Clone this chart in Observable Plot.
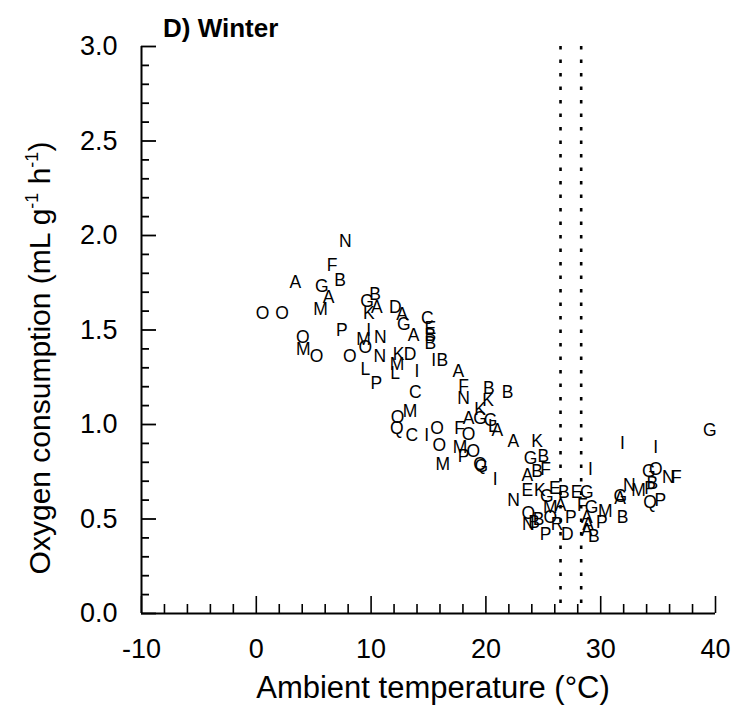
<!DOCTYPE html>
<html>
<head>
<meta charset="utf-8">
<script src="https://cdn.jsdelivr.net/npm/d3@7"></script>
<script src="https://cdn.jsdelivr.net/npm/@observablehq/plot@0.6"></script>
<style>
  html, body { margin: 0; padding: 0; background: #fff; }
  #wrap { position: relative; width: 737px; height: 724px; }
  #title {
    position: absolute; left: 163px; top: 13px;
    font: bold 26px "Liberation Sans", Arial, sans-serif; color: #000;
  }
</style>
</head>
<body>
<div id="wrap">
  <div id="chart"></div>
  <div id="title">D) Winter</div>
</div>
<script>
// Individual animals (letter IDs) measured at each ambient temperature
const animal = [
  "N","F","B","A","G","A","M","O","O","G",
  "B","K","A","D","A","G","A","P","I","N",
  "M","O","O","M","O","O","N","K","D","M",
  "L","L","P","I","E","B","B","C","I","B",
  "A","C","F","N","B","B","K","K","M","O",
  "Q","C","I","O","O","M","F","A","G","G",
  "L","A","O","M","O","P","Q","G","I","A",
  "K","G","B","A","B","F","E","K","E","B",
  "E","G","G","N","M","A","F","G","M","O",
  "N","B","O","R","P","P","D","A","A","B",
  "P","B","I","I","A","G","N","M","P","G",
  "I","O","G","B","N","F","Q","P","A","B"
];
// Ambient temperature (°C)
const temperature = [
  7.75, 6.6, 7.3, 3.4, 5.7, 6.3, 5.6, 0.55, 2.25, 9.65,
  10.35, 9.8, 10.5, 12.1, 12.7, 12.85, 13.7, 7.45, 9.8, 10.8,
  9.35, 9.5, 4.05, 4.1, 5.25, 8.15, 10.75, 12.4, 13.4, 12.25,
  9.5, 12.1, 10.45, 14.0, 15.15, 15.15, 15.15, 14.9, 15.45, 16.2,
  17.6, 13.85, 18.05, 18.05, 20.25, 21.9, 20.2, 19.5, 13.4, 12.3,
  12.25, 13.55, 14.85, 15.75, 15.95, 16.25, 17.7, 18.5, 19.5, 20.4,
  20.6, 21.0, 18.5, 17.75, 18.9, 18.05, 19.5, 19.6, 20.8, 22.4,
  24.45, 23.9, 25.0, 23.6, 24.45, 25.2, 23.6, 24.7, 26.0, 26.8,
  27.9, 28.8, 25.3, 22.4, 25.6, 26.5, 28.4, 29.2, 30.4, 23.7,
  23.7, 24.6, 25.6, 26.2, 27.4, 25.2, 27.1, 28.8, 28.8, 29.4,
  30.1, 31.9, 31.9, 29.1, 31.7, 31.7, 32.5, 33.3, 34.3, 39.5,
  34.8, 34.8, 34.2, 34.5, 35.9, 36.6, 34.3, 35.2, 28.9, 24.2
];
// Oxygen consumption (mL g-1 h-1)
const oxygen = [
  1.97, 1.84, 1.76, 1.75, 1.73, 1.67, 1.61, 1.59, 1.59, 1.65,
  1.69, 1.59, 1.62, 1.62, 1.58, 1.53, 1.47, 1.50, 1.50, 1.46,
  1.45, 1.41, 1.46, 1.40, 1.36, 1.36, 1.36, 1.37, 1.37, 1.32,
  1.29, 1.27, 1.22, 1.28, 1.51, 1.47, 1.43, 1.56, 1.34, 1.34,
  1.28, 1.17, 1.20, 1.14, 1.19, 1.17, 1.13, 1.08, 1.07, 1.04,
  0.98, 0.94, 0.94, 0.98, 0.89, 0.79, 0.98, 1.03, 1.03, 1.02,
  0.99, 0.97, 0.95, 0.88, 0.86, 0.83, 0.79, 0.78, 0.71, 0.91,
  0.91, 0.82, 0.83, 0.73, 0.75, 0.76, 0.65, 0.65, 0.66, 0.64,
  0.64, 0.64, 0.62, 0.60, 0.56, 0.57, 0.57, 0.56, 0.54, 0.53,
  0.47, 0.50, 0.51, 0.47, 0.51, 0.42, 0.42, 0.51, 0.44, 0.41,
  0.48, 0.51, 0.90, 0.76, 0.61, 0.62, 0.68, 0.65, 0.66, 0.97,
  0.88, 0.76, 0.75, 0.69, 0.72, 0.72, 0.59, 0.60, 0.47, 0.48
];
// Limits of the thermoneutral zone (°C)
const thermoneutral = [26.5, 28.3];

// Axis ticks
const xLabelTicks = [-10, 0, 10, 20, 30, 40];
const xTicks = d3.range(-10, 41, 2);
const yLabelTicks = [0, 0.5, 1.0, 1.5, 2.0, 2.5, 3.0];
const yTicks = d3.range(0, 31).map(i => i / 10);

const data = animal.map((id, i) => ({id, t: temperature[i], vo2: oxygen[i]}));

const W = 737, H = 724;
const mL = 141, mR = 22, mT = 46, mB = 111;
const frameW = W - mL - mR, frameH = H - mT - mB;
const isMajorX = v => Math.abs(v % 10) < 1e-9;
const isMajorY = v => Math.abs(Math.round(v * 10) % 5) === 0;

const chart = Plot.plot({
  width: W,
  height: H,
  marginLeft: mL,
  marginRight: mR,
  marginTop: mT,
  marginBottom: mB,
  style: {fontFamily: "'Liberation Sans', Arial, sans-serif", background: "#fff", color: "#000"},
  x: {domain: [-10, 40]},
  y: {domain: [0, 3]},
  marks: [
    // thermoneutral zone boundaries
    Plot.ruleX(thermoneutral, {stroke: "#000", strokeWidth: 2.6, strokeDasharray: "3.5 10"}),
    // inward ticks on the x axis
    Plot.tickX(xTicks.filter(v => !isMajorX(v)), {stroke: "#000", strokeWidth: 1.6, insetTop: frameH - 9}),
    Plot.tickX(xTicks.filter(isMajorX), {stroke: "#000", strokeWidth: 1.6, insetTop: frameH - 17}),
    // inward ticks on the y axis
    Plot.tickY(yTicks.filter(v => !isMajorY(v)), {stroke: "#000", strokeWidth: 1.8, insetRight: frameW - 8}),
    Plot.tickY(yTicks.filter(isMajorY), {stroke: "#000", strokeWidth: 1.8, insetRight: frameW - 15}),
    // axis lines
    Plot.ruleX([-10], {stroke: "#000", strokeWidth: 2}),
    Plot.ruleY([0], {stroke: "#000", strokeWidth: 2}),
    Plot.axisX({ticks: xLabelTicks, tickSize: 0, tickPadding: 25, fontSize: 27, label: null, tickFormat: d => d}),
    Plot.axisY({ticks: yLabelTicks, tickSize: 0, tickPadding: 24, fontSize: 27, label: null, tickFormat: d3.format(".1f")}),
    // each measurement drawn as the animal's letter
    Plot.text(data, {x: "t", y: "vo2", text: "id", fontSize: 17.5, fill: "#000"})
  ]
});

document.getElementById("chart").appendChild(chart);

// Axis titles
const svg = d3.select(chart);
svg.append("text")
  .attr("x", 433)
  .attr("y", 698)
  .attr("text-anchor", "middle")
  .attr("font-size", 31)
  .attr("fill", "#000")
  .text("Ambient temperature (°C)");

const yl = svg.append("text")
  .attr("transform", "translate(50,358) rotate(-90)")
  .attr("text-anchor", "middle")
  .attr("font-size", 30)
  .attr("fill", "#000");
yl.append("tspan").text("Oxygen consumption (mL g");
yl.append("tspan").attr("font-size", 18).attr("dy", -12).text("-1");
yl.append("tspan").attr("dy", 12).text(" h");
yl.append("tspan").attr("font-size", 18).attr("dy", -12).text("-1");
yl.append("tspan").attr("dy", 12).text(")");
</script>
</body>
</html>
